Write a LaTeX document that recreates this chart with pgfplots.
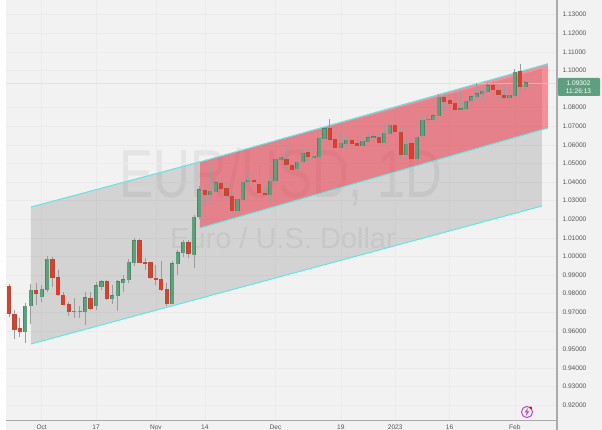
\documentclass[border=0pt]{standalone}
\usepackage{fontspec}
\setmainfont{Liberation Sans}
\usepackage{pgfplots}
\usepackage{pgfplotstable}
\pgfplotsset{compat=1.18}
\definecolor{bgc}{HTML}{F2F2F2}
\definecolor{gridc}{HTML}{EBEBEB}
\definecolor{axc}{HTML}{ABABAB}
\definecolor{txt}{HTML}{555555}
\definecolor{wick}{HTML}{9C9C9C}
\definecolor{gf}{HTML}{5E9F7E}
\definecolor{ge}{HTML}{4C8668}
\definecolor{rf}{HTML}{DC3F2B}
\definecolor{re}{HTML}{B4493A}
\definecolor{cy}{HTML}{62E6E2}
\definecolor{pk}{HTML}{F83044}
\definecolor{wm}{HTML}{E4E4E4}
\definecolor{tag}{HTML}{5F9F7F}
\definecolor{pur}{HTML}{B84CD0}
\pgfplotstableread{
i h t b l
3 .97484 .97322 .95957 .95365
4 .98505 .98183 .97355 .96371
6 .98467 .98236 .97838 .97537
7 1.00027 .99849 .98215 .98107
12 .97752 .97053 .97016 .96709
13 .97338 .97053 .97016 .96709
14 .98075 .97769 .97032 .96317
16 .98613 .98414 .97355 .97123
17 .98736 .98629 .98376 .98199
19 .98467 .97876 .97731 .97446
20 .98752 .98629 .97860 .97070
21 .99005 .98736 .98591 .98075
22 .99881 .99666 .98736 .98559
23 1.00978 1.00833 .99666 .99489
30 .99758 .99596 .97462 .97446
31 1.00349 1.00188 .99596 .99005
32 1.00887 1.00742 1.00204 .99989
34 1.02204 1.02086 1.00097 .99381
35 1.03790 1.03575 1.02107 1.02016
37 1.04866 1.03506 1.03291 1.02823
38 1.04420 1.03952 1.03484 1.03468
42 1.03183 1.03054 1.02430 1.02393
43 1.04059 1.03989 1.03054 1.03038
44 1.04506 1.04097 1.03989 1.03914
48 1.04382 1.04043 1.03307 1.02930
49 1.05457 1.05226 1.04059 1.04022
50 1.05549 1.05334 1.05188 1.04651
53 1.05457 1.05065 1.04688 1.04506
54 1.05764 1.05549 1.05065 1.05011
56 1.05834 1.05387 1.05312 1.05081
57 1.06441 1.06334 1.05366 1.05334
58 1.06979 1.06855 1.06334 1.06264
61 1.06624 1.06086 1.05850 1.05817
62 1.06532 1.06247 1.06065 1.05817
65 1.06355 1.06194 1.05957 1.05941
66 1.06624 1.06371 1.06172 1.06140
67 1.06710 1.06425 1.06371 1.06156
69 1.07070 1.06624 1.06118 1.06086
70 1.07162 1.07054 1.06602 1.06570
73 1.06355 1.06032 1.05473 1.05403
75 1.06532 1.06409 1.05242 1.04903
76 1.07607 1.07322 1.06462 1.06409
77 1.07645 1.07377 1.07322 1.07162
78 1.07699 1.07554 1.07355 1.07301
79 1.08720 1.08537 1.07570 1.07554
83 1.08860 1.07930 1.07892 1.07876
84 1.08451 1.08344 1.07930 1.07914
85 1.08682 1.08575 1.08344 1.08054
86 1.09312 1.08736 1.08559 1.08451
87 1.09043 1.08881 1.08752 1.08376
88 1.09312 1.09166 1.08860 1.08774
92 1.09113 1.08666 1.08505 1.08054
93 1.10080 1.09903 1.08645 1.08591
95 1.09489 1.09328 1.09129 1.08860
}\greentab
\pgfplotstableread{
i h t b l
0 .9852 .9836 .9691 .9673
1 .97123 .96871 .96064 .95548
2 .96693 .96102 .95941 .95688
5 .98591 .98183 .98000 .97392
8 .99957 .99849 .98828 .98376
9 .99274 .98844 .97914 .97860
10 .98107 .97914 .97408 .97392
11 .97570 .97408 .97016 .96801
15 .98107 .97752 .97193 .97123
18 .98736 .98629 .97715 .97661
24 1.00957 1.00833 .99666 .99634
25 .99903 .99688 .99613 .99274
26 .99688 .99650 .98828 .98774
27 .99559 .98828 .98752 .98467
28 .99774 .98752 .98215 .98145
29 .98559 .98215 .97462 .97338
33 1.00887 1.00742 1.00118 .99903
36 1.03667 1.03538 1.03291 1.02769
39 1.04291 1.03936 1.03613 1.03075
40 1.03936 1.03667 1.03269 1.03075
41 1.03484 1.03237 1.02446 1.02231
45 1.04473 1.04097 1.03989 1.03575
46 1.05011 1.03882 1.03414 1.03129
47 1.03844 1.03398 1.03291 1.03253
51 1.05995 1.05226 1.04936 1.04688
52 1.05188 1.04903 1.04651 1.04473
55 1.05903 1.05581 1.05350 1.05135
59 1.07377 1.06855 1.06280 1.05941
60 1.06586 1.06301 1.05850 1.05796
63 1.06532 1.06247 1.06049 1.05817
64 1.06624 1.06086 1.05957 1.05941
68 1.06586 1.06409 1.06118 1.06086
71 1.07124 1.07054 1.06678 1.06532
72 1.06893 1.06667 1.05473 1.05226
74 1.06355 1.06049 1.05226 1.05188
80 1.08720 1.08537 1.08322 1.07838
81 1.08682 1.08360 1.08215 1.07699
82 1.08774 1.08215 1.07892 1.07785
89 1.09312 1.09166 1.08951 1.08548
90 1.09097 1.08935 1.08699 1.08467
91 1.09166 1.08666 1.08505 1.08414
94 1.10349 1.09919 1.09129 1.08860
}\redtab
\pgfplotsset{
 wicks/.style={draw=none,no marks,forget plot,error bars/.cd,y dir=plus,y explicit,error mark=none,error bar style={line width=0.9pt,color=wick,line cap=butt,solid}},
 body/.style 2 args={draw=none,no marks,forget plot,error bars/.cd,y dir=plus,y explicit,error mark=none,error bar style={line width=#1,color=#2,line cap=butt,solid}},
}
\begin{document}
\begin{tikzpicture}[x=1pt,y=1pt]
\useasboundingbox (-6,-9) rectangle (596,421);
\fill[white] (-6,-9) rectangle (596,421);
\fill[bgc] (0,-9) rectangle (596,421);
\node[text=wm,font=\fontsize{68}{68}\selectfont,anchor=center] at (275,244) {\scalebox{0.75}[1]{EUR/USD, 1D}};
\node[text=wm,font=\fontsize{29}{29}\selectfont,anchor=center] at (277,183) {Euro / U.S. Dollar};
\begin{axis}[
 at={(0,0)},anchor=south west,scale only axis,width=551pt,height=421pt,
 xmin=-0.551,xmax=100.74,ymin=0.91156,ymax=1.13790,
 axis line style={draw=none},
 axis x line*=bottom,axis y line*=right,
 xtick={6,16,27,36,49,61,71,81,93},
 xticklabels={Oct,17,Nov,14,Dec,19,2023,16,Feb},
 ytick={0.92,0.93,0.94,0.95,0.96,0.97,0.98,0.99,1.0,1.01,1.02,1.03,1.04,1.05,1.06,1.07,1.08,1.10,1.11,1.12,1.13},
 /pgf/number format/fixed,/pgf/number format/fixed zerofill,/pgf/number format/precision=5,/pgf/number format/assume math mode=true,
 tick style={draw=none},
 grid=major,grid style={gridc,line width=0.6pt},
 ticklabel style={font=\fontsize{6.6}{8}\selectfont,text=txt},
 yticklabel style={anchor=west,xshift=2pt},
 xticklabel style={anchor=center,yshift=-6pt},
 clip=true,
]
% channels
\addplot[fill=black,fill opacity=0.125,draw=none,forget plot] coordinates {(4.04,1.02661) (97.98,1.10080) (97.98,1.02715) (4.04,.95296)} --cycle;
\addplot[fill=pk,fill opacity=0.5,draw=none,forget plot] coordinates {(35.1,1.05081) (99.08,1.10365) (99.08,1.06908) (35.1,1.01532)} --cycle;
\addplot[cy,line width=1pt,forget plot] coordinates {(4.04,1.02661) (35.1,1.05081)};
\addplot[cy,line width=1pt,forget plot] coordinates {(35.1,1.05081) (99.08,1.10365)};
\addplot[cy,line width=1pt,forget plot] coordinates {(35.1,1.01532) (99.08,1.06908)};
\addplot[cy,line width=1pt,forget plot] coordinates {(4.04,.95296) (97.98,1.02715)};
\addplot[black!15,line width=0.6pt,opacity=0.6,forget plot] coordinates {(-0.551,1.09302) (100.74,1.09302)};
% wicks
\addplot[wicks] table[x=i,y=l,y error expr=\thisrow{h}-\thisrow{l}] {\greentab};
\addplot[wicks] table[x=i,y=l,y error expr=\thisrow{h}-\thisrow{l}] {\redtab};
% bodies
\addplot[body={4.2pt}{ge}] table[x=i,y=b,y error expr=\thisrow{t}-\thisrow{b}+0.0004] {\greentab};
\addplot[body={3pt}{gf}] table[x=i,y=b,y error expr=\thisrow{t}-\thisrow{b}+0.0002] {\greentab};
\addplot[body={4.2pt}{re}] table[x=i,y=b,y error expr=\thisrow{t}-\thisrow{b}+0.0004] {\redtab};
\addplot[body={3pt}{rf}] table[x=i,y=b,y error expr=\thisrow{t}-\thisrow{b}+0.0002] {\redtab};
\end{axis}
% axis lines
\draw[axc,line width=1.5pt] (551,-9) -- (551,421);
\draw[axc,line width=1pt] (0,0) -- (551,0);
% price tag
\fill[tag,rounded corners=1pt] (552,325) rectangle (594,343);
\node[text=white,font=\fontsize{6.6}{8.2}\selectfont,align=center,inner sep=0pt] at (572.5,334) {1.09302\\11:26:13};
% flash icon
\draw[pur,line width=1pt] (521,9) circle (5.6);
\fill[pur] (522,13) -- (518.6,8.6) -- (520.8,8.6) -- (519.8,5) -- (523.4,9.6) -- (521.2,9.6) -- cycle;
\fill[red!85!black] (524.8,13.2) circle (1.4);
\end{tikzpicture}
\end{document}
